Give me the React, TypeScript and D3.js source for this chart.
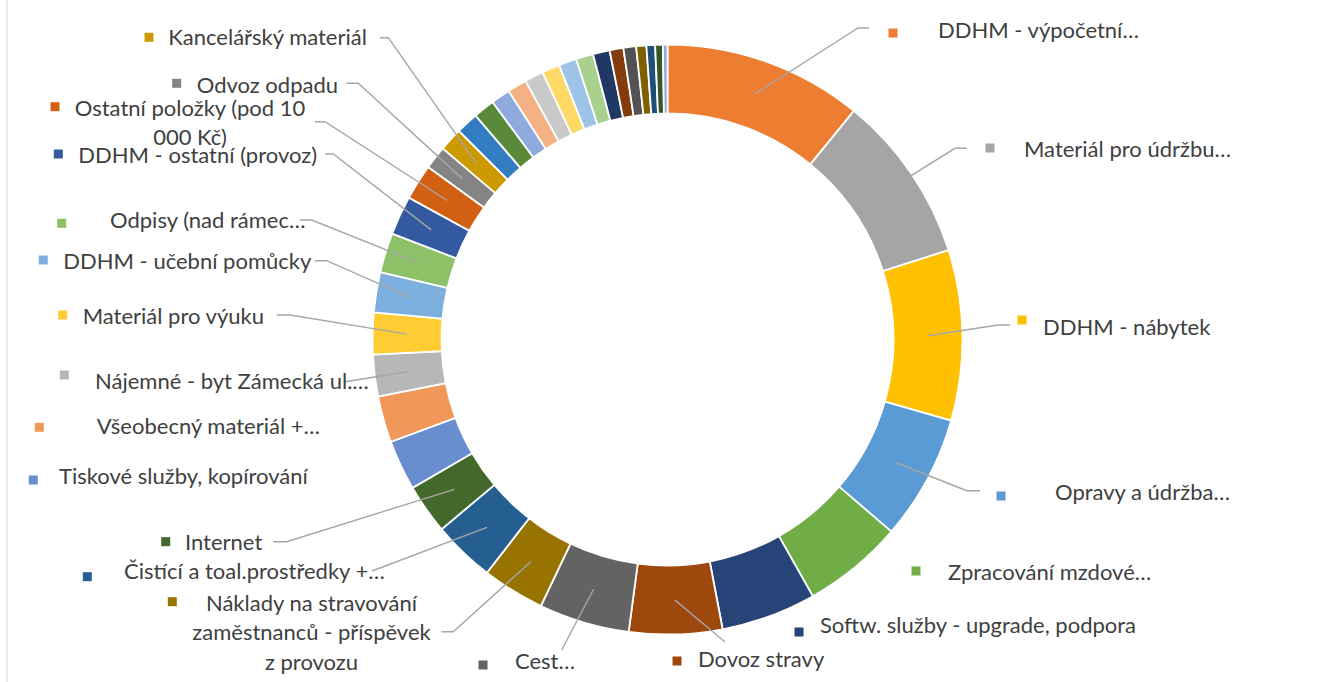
import React from "react";
import * as d3 from "d3";

// ---- data ----
const categories: string[] = [
  "DDHM - výpočetní…",
  "Materiál pro údržbu…",
  "DDHM - nábytek",
  "Opravy a údržba…",
  "Zpracování mzdové…",
  "Softw. služby - upgrade, podpora",
  "Dovoz stravy",
  "Cest…",
  "Náklady na stravování\nzaměstnanců - příspěvek\nz provozu",
  "Čistící a toal.prostředky +…",
  "Internet",
  "Tiskové služby, kopírování",
  "Všeobecný materiál +…",
  "Nájemné - byt Zámecká ul.…",
  "Materiál pro výuku",
  "DDHM - učební pomůcky",
  "Odpisy (nad rámec…",
  "DDHM - ostatní (provoz)",
  "Ostatní položky (pod 10\n000 Kč)",
  "Odvoz odpadu",
  "Kancelářský materiál",
  "", "", "", "", "", "", "", "", "", "", "", "", "", "", "",
];

const values: number[] = [
  391, 331, 335, 246, 198, 187, 183, 178, 123, 122, 98, 99, 91, 82, 82, 79,
  78, 77, 70, 46, 46, 44, 42, 38, 38, 37, 35, 35, 34, 33, 27, 25, 20, 17, 15, 9,
];

const colors: string[] = [
  "#ED7D31", "#A5A5A5", "#FFC000", "#5B9BD5", "#70AD47", "#264478", "#9E480E",
  "#636363", "#997300", "#255E91", "#43682B", "#698ED0", "#F1975A", "#B7B7B7",
  "#FFCD33", "#7CAFDD", "#8CC168", "#335AA1", "#D26012", "#848484", "#CC9A00",
  "#327DC2", "#5A8A39", "#8FAADC", "#F4B183", "#C9C9C9", "#FFD966", "#9DC3E6",
  "#A9D18E", "#203864", "#843C0C", "#525252", "#7F6000", "#1F4E79", "#375623",
  "#8EA9DB",
];

// ---- label layout (Excel placed data labels) ----
type Lay = {
  sq: [number, number];
  tx: number;
  ty: number;
  anchor?: "start" | "middle";
  knee?: [number, number];
  end?: [number, number];
};
const labelLayout: Lay[] = [
  { sq: [893, 33], tx: 938, ty: 30, knee: [858, 28], end: [869, 28] },
  { sq: [990, 148], tx: 1024, ty: 149, knee: [955, 148.3], end: [966.7, 148.3] },
  { sq: [1022, 320], tx: 1043, ty: 327, knee: [998, 325], end: [1010, 325] },
  { sq: [1001, 496], tx: 1055, ty: 492, knee: [966.7, 490.7], end: [980, 490.7] },
  { sq: [916, 571], tx: 948, ty: 572 },
  { sq: [799, 632], tx: 820, ty: 625 },
  { sq: [677, 661], tx: 698, ty: 659, end: [725, 642] },
  { sq: [483, 665], tx: 515, ty: 661, end: [561.7, 650] },
  { sq: [172.3, 601.7], tx: 311.5, ty: 603, anchor: "middle", knee: [453.3, 631.7], end: [441.7, 631.7] },
  { sq: [87.3, 576.7], tx: 124, ty: 571.7, end: [372, 571] },
  { sq: [165.7, 541.7], tx: 185, ty: 542.7, knee: [286.7, 541.7], end: [273.3, 541.7] },
  { sq: [33.3, 480], tx: 59, ty: 476.7 },
  { sq: [39.3, 427.3], tx: 96.7, ty: 426.7 },
  { sq: [64.3, 375], tx: 95, ty: 381.7, end: [345, 381.7] },
  { sq: [62.7, 315], tx: 82.7, ty: 316.7, knee: [290, 315], end: [276.7, 315] },
  { sq: [43.3, 260], tx: 63.3, ty: 261.7, knee: [326.7, 260.7], end: [315, 260.7] },
  { sq: [61.7, 223.3], tx: 110, ty: 220.7, knee: [311.7, 220], end: [300, 220] },
  { sq: [58.3, 154], tx: 78.3, ty: 155, knee: [333.3, 154], end: [325, 154] },
  { sq: [55, 106.7], tx: 190, ty: 108, anchor: "middle", knee: [325, 121.7], end: [315, 121.7] },
  { sq: [176.7, 83.3], tx: 196.7, ty: 85, knee: [358.3, 83.3], end: [346.7, 83.3] },
  { sq: [149, 37.3], tx: 168.3, ty: 37.7, knee: [388.3, 37.7], end: [380, 37.7] },
];

const W = 1320;
const H = 682;
const CX = 667.5;
const CY = 339.5;
const R_OUT = 295;
const R_IN = 226;
const FONT = "Lato, 'Open Sans', sans-serif";
const FS = 22;
const LH = 29.5;

export default function App() {
  const data = values.map((v, i) => ({ name: categories[i], value: v, color: colors[i], i }));
  const pie = d3.pie<any>().value((d) => d.value).sort(null).startAngle(0).endAngle(2 * Math.PI);
  const arcs = pie(data);
  const arc = d3.arc<any>().innerRadius(R_IN).outerRadius(R_OUT);

  return (
    <svg
      width={W}
      height={H}
      style={{ position: "absolute", left: 0, top: 0, background: "#fff" }}
    >
      <rect x={0} y={0} width={W} height={H} fill="#fff" />
      <line x1={7} y1={0} x2={7} y2={H} stroke="#D9D9D9" strokeWidth={1.2} />
      <g transform={`translate(${CX},${CY})`}>
        {arcs.map((a) => (
          <path
            key={a.data.i}
            d={arc(a) as string}
            fill={a.data.color}
            stroke="#fff"
            strokeWidth={1.8}
          />
        ))}
      </g>
      {labelLayout.map((L, i) => {
        const a = arcs[i];
        const [cx, cy] = arc.centroid(a);
        const px = CX + cx;
        const py = CY + cy;
        let path: string | null = null;
        if (L.end) {
          const pts: [number, number][] = [[px, py]];
          if (L.knee) pts.push(L.knee);
          pts.push(L.end);
          path = d3.line()(pts);
        }
        const lines = categories[i].split("\n");
        return (
          <g key={"lab" + i}>
            {path && (
              <path d={path} fill="none" stroke="#A6A6A6" strokeWidth={1.4} />
            )}
            <rect x={L.sq[0] - 4.5} y={L.sq[1] - 4.5} width={9} height={9} fill={colors[i]} />
            <text
              x={L.tx}
              y={L.ty}
              fontFamily={FONT}
              fontSize={FS}
              fill="#404040"
              textAnchor={L.anchor || "start"}
            >
              {lines.map((t, k) => (
                <tspan key={k} x={L.tx} y={L.ty + k * LH} dy="0.35em">
                  {t}
                </tspan>
              ))}
            </text>
          </g>
        );
      })}
    </svg>
  );
}
